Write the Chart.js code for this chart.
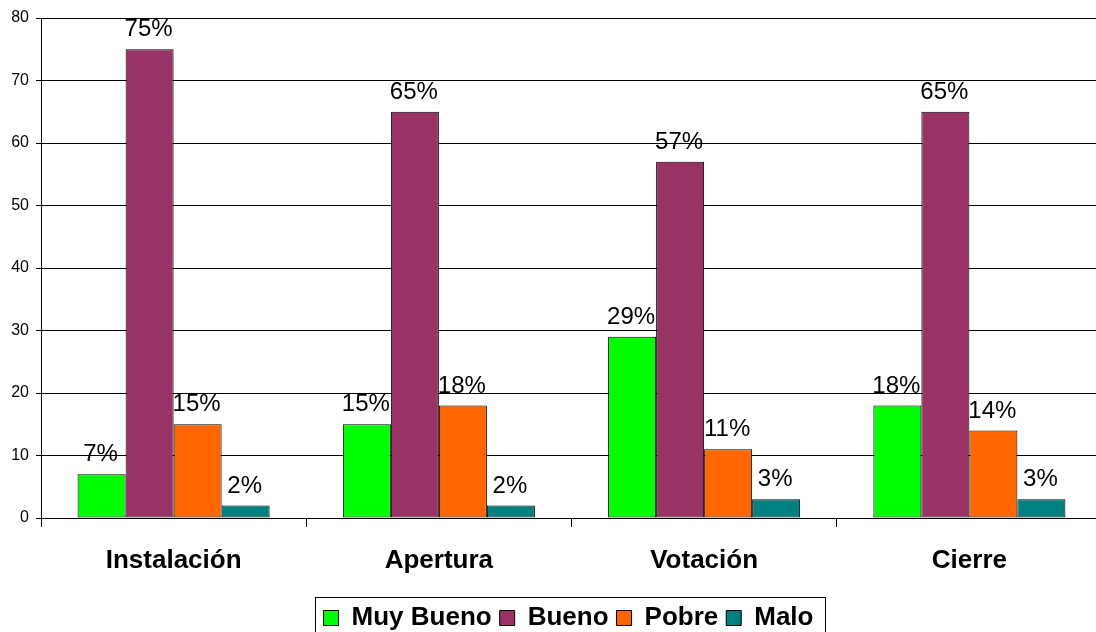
<!DOCTYPE html>
<html>
<head>
<meta charset="utf-8">
<script src="https://cdn.jsdelivr.net/npm/chart.js@4.4.1/dist/chart.umd.min.js"></script>
<style>
  html, body { margin: 0; padding: 0; overflow: hidden; background: #fff; }
  #wrap { width: 1096px; height: 632px; overflow: hidden; }
  canvas { display: block; }
</style>
</head>
<body>
<div id="wrap"><canvas id="c" width="1102" height="641"></canvas></div>
<script>
const categories = ['Instalación', 'Apertura', 'Votación', 'Cierre'];
const muyBueno = [7, 15, 29, 18];
const bueno    = [75, 65, 57, 65];
const pobre    = [15, 18, 11, 14];
const malo     = [2, 2, 3, 3];
const yTicks   = [0, 10, 20, 30, 40, 50, 60, 70, 80];

const FONT = 'Arial, "Liberation Sans", sans-serif';

function series(label, data, color) {
  return {
    label, data,
    backgroundColor: color,
    borderColor: '#000',
    borderWidth: 1,
    borderSkipped: false,
    categoryPercentage: 0.724,
    barPercentage: 1.0
  };
}

// Percent labels above each bar
const valueLabels = {
  id: 'valueLabels',
  afterDatasetsDraw(chart) {
    const ctx = chart.ctx;
    ctx.save();
    ctx.font = '24px ' + FONT;
    ctx.fillStyle = '#000';
    ctx.textAlign = 'center';
    ctx.textBaseline = 'alphabetic';
    chart.data.datasets.forEach((ds, di) => {
      chart.getDatasetMeta(di).data.forEach((bar, i) => {
        ctx.fillText(ds.data[i] + '%', bar.x - 1, bar.y - 13);
      });
    });
    ctx.restore();
  }
};

// Centre the legend under the plot area rather than the whole canvas
const legendCentre = {
  id: 'legendCentre',
  afterLayout(chart) {
    const lg = chart.legend;
    if (!lg) return;
    const shift = (chart.chartArea.left + chart.chartArea.right) / 2 - (lg.left + lg.right) / 2 - 3;
    lg.left += shift;
    lg.right += shift;
  }
};

// Frame around the legend entries
const legendFrame = {
  id: 'legendFrame',
  afterDraw(chart) {
    const lg = chart.legend;
    if (!lg || !lg.legendHitBoxes.length) return;
    const hb = lg.legendHitBoxes;
    const left = Math.min(...hb.map(h => h.left)) - 9;
    const right = Math.max(...hb.map(h => h.left + h.width)) + 11;
    const top = lg.top;
    const bottom = lg.bottom + 10;
    const ctx = chart.ctx;
    ctx.save();
    ctx.strokeStyle = '#000';
    ctx.lineWidth = 1;
    ctx.strokeRect(Math.round(left) + 0.5, Math.round(top) + 0.5, Math.round(right - left), Math.round(bottom - top));
    ctx.restore();
  }
};

new Chart(document.getElementById('c'), {
  type: 'bar',
  data: {
    labels: categories,
    datasets: [
      series('Muy Bueno', muyBueno, '#00FF00'),
      series('Bueno', bueno, '#993366'),
      series('Pobre', pobre, '#FF6600'),
      series('Malo', malo, '#008080')
    ]
  },
  options: {
    responsive: false,
    animation: false,
    devicePixelRatio: 1,
    layout: { padding: { top: 18, right: 0, bottom: 0, left: 0 } },
    plugins: {
      tooltip: { enabled: false },
      legend: {
        position: 'bottom',
        labels: {
          boxWidth: 15,
          boxHeight: 15,
          padding: 8,
          color: '#000',
          font: { family: FONT, size: 26, weight: 'bold' }
        }
      }
    },
    scales: {
      x: {
        offset: true,
        grid: {
          offset: true,
          drawOnChartArea: false,
          drawTicks: true,
          tickLength: 9,
          color: '#000'
        },
        border: { color: '#000', width: 1 },
        ticks: {
          color: '#000',
          padding: 18,
          font: { family: FONT, size: 26, weight: 'bold' }
        },
        afterFit(scale) { scale.height = 79; }
      },
      y: {
        min: 0,
        max: 80,
        afterBuildTicks(scale) { scale.ticks = yTicks.map(v => ({ value: v })); },
        grid: { color: '#000', tickLength: 5 },
        border: { color: '#000', width: 1 },
        ticks: {
          color: '#000',
          padding: 7,
          font: { family: FONT, size: 16 }
        },
        afterFit(scale) { scale.width = 41; }
      }
    }
  },
  plugins: [legendCentre, valueLabels, legendFrame]
});
</script>
</body>
</html>
